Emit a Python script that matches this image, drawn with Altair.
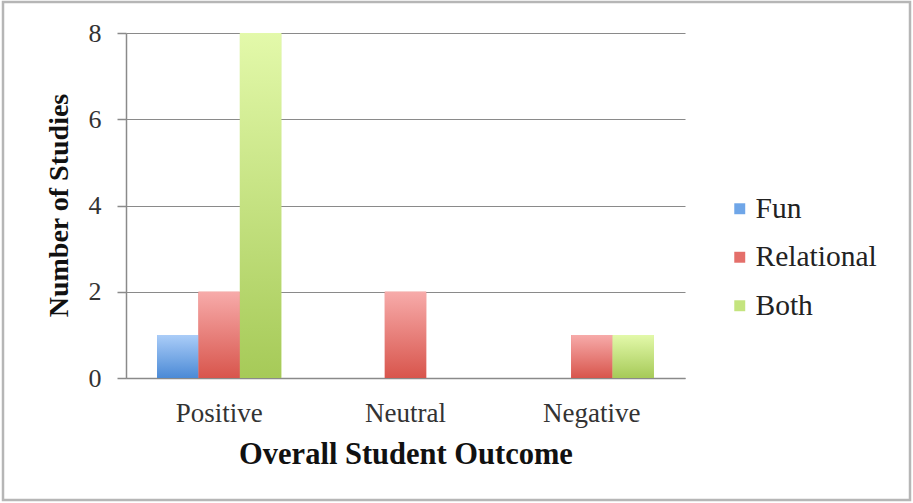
import altair as alt
import pandas as pd

# Number of studies by overall student outcome and humour type
outcomes = ["Positive", "Neutral", "Negative"]
series = ["Fun", "Relational", "Both"]
fun_counts = [1, 0, 0]
relational_counts = [2, 2, 1]
both_counts = [8, 0, 1]

flat_colors = ["#6fa6e8", "#e46f6a", "#c4e47e"]
gradient_stops = {
    "Fun": ("#abcdf8", "#4b8ad6"),
    "Relational": ("#f7abaa", "#d8554c"),
    "Both": ("#e3f9aa", "#a6ca58"),
}

rows = []
for name, counts in zip(series, [fun_counts, relational_counts, both_counts]):
    for outcome, n in zip(outcomes, counts):
        rows.append({"Outcome": outcome, "Type": name, "Studies": n})
df = pd.DataFrame(rows)

SERIF = "Liberation Serif"

x_enc = alt.X(
    "Outcome:N",
    sort=outcomes,
    scale=alt.Scale(paddingInner=1 / 3, paddingOuter=1 / 6),
    axis=alt.Axis(
        title="Overall Student Outcome",
        labelAngle=0,
        labelFontSize=27,
        titleFontSize=30.5,
        ticks=False,
        labelPadding=22,
        titlePadding=13,
        domainColor="#8a8a8a",
        domainWidth=1.5,
    ),
)
xoff_enc = alt.XOffset(
    "Type:N", sort=series, scale=alt.Scale(domain=series, paddingInner=0, paddingOuter=0)
)
y_enc = alt.Y(
    "Studies:Q",
    scale=alt.Scale(domain=[0, 8], nice=False),
    axis=alt.Axis(
        title="Number of Studies",
        values=[0, 2, 4, 6, 8],
        labelFontSize=26,
        titleFontSize=28,
        tickSize=9,
        tickColor="#8a8a8a",
        tickWidth=1.5,
        labelPadding=16,
        gridColor="#8a8a8a",
        gridWidth=1.2,
        domainColor="#8a8a8a",
        domainWidth=1.5,
        titleX=-67,
        titleY=172,
        titleAlign="center",
        titleBaseline="middle",
    ),
)

base = alt.Chart(df)

# flat bars carry the legend
legend_bars = base.mark_bar().encode(
    x=x_enc,
    xOffset=xoff_enc,
    y=y_enc,
    color=alt.Color(
        "Type:N",
        sort=series,
        scale=alt.Scale(domain=series, range=flat_colors),
        legend=alt.Legend(
            title=None,
            orient="none",
            legendX=599,
            legendY=161,
            symbolType="square",
            symbolSize=120,
            symbolStrokeWidth=0,
            labelFont=SERIF,
            labelFontSize=29.5,
            labelColor="#222222",
            labelOffset=1,
            rowPadding=17.5,
        ),
    ),
)

# shaded bars drawn on top, one layer per series
shaded = []
for name in series:
    top, bottom = gradient_stops[name]
    shaded.append(
        base.transform_filter(alt.datum.Type == name)
        .transform_filter(alt.datum.Studies > 0)
        .mark_bar(
            color=alt.Gradient(
                gradient="linear",
                x1=0, x2=0, y1=0, y2=1,
                stops=[
                    alt.GradientStop(color=top, offset=0),
                    alt.GradientStop(color=bottom, offset=1),
                ],
            )
        )
        .encode(x=x_enc, xOffset=xoff_enc, y=y_enc)
    )

frame = (
    alt.Chart(pd.DataFrame({"k": [0]}))
    .mark_rect(fillOpacity=0, stroke="#b6b6b6", strokeWidth=2.5)
    .encode(
        x=alt.value(-123),
        x2=alt.value(784),
        y=alt.value(-31),
        y2=alt.value(467),
    )
)

chart = (
    alt.layer(legend_bars, *shaded, frame)
    .properties(
        width=559,
        height=345,
        autosize=alt.AutoSizeParams(type="none"),
        padding={"left": 126, "top": 33, "right": 228, "bottom": 125},
        background="white",
    )
    .configure(font=SERIF)
    .configure_view(stroke=None)
    .configure_axis(
        labelFont=SERIF,
        labelColor="#333333",
        titleFont=SERIF,
        titleFontWeight="bold",
        titleColor="#111111",
    )
)

chart.save("out.html", embed_options={"renderer": "svg", "actions": False})
